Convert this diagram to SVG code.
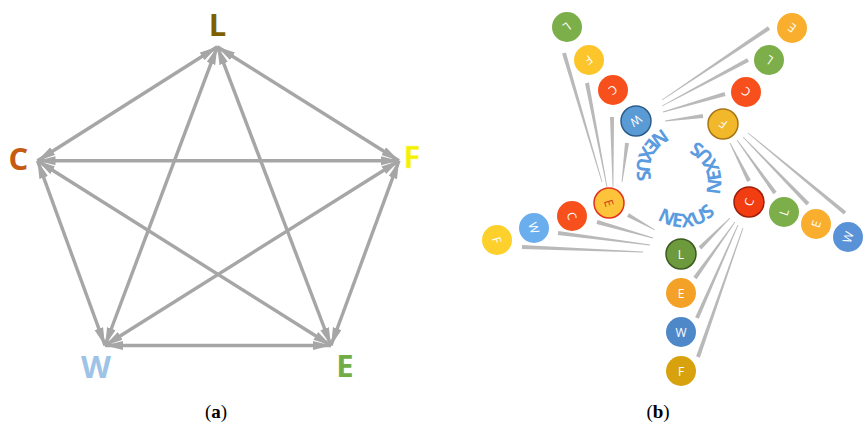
<svg xmlns="http://www.w3.org/2000/svg" width="864" height="433" viewBox="0 0 864 433">
<style>
.edge{stroke:#a6a6a6;stroke-width:3.4;fill:none;marker-start:url(#ah);marker-end:url(#ah)}
.lbl{font-family:"Open Sans","Liberation Sans",sans-serif;font-weight:bold;font-size:31px;text-anchor:middle}
.w{fill:#b9b9b9}
.t{font-family:"Open Sans","Liberation Sans",sans-serif;font-size:12px;fill:#fff;text-anchor:middle;dominant-baseline:central}
.nx{font-family:"Open Sans","Liberation Sans",sans-serif;font-weight:bold;font-size:19px;fill:#5b9be0}
.cap{font-family:"Liberation Serif",serif;font-size:19px;fill:#000;text-anchor:middle}
</style>
<defs>
<marker id="ah" markerUnits="userSpaceOnUse" markerWidth="20" markerHeight="10" refX="18" refY="4.5" orient="auto-start-reverse">
<path d="M0,0 L18,4.5 L0,9 z" fill="#a6a6a6"/>
</marker>
<path id="pl" d="M677.4,124.6 A45,45 0 0 0 644.7,195.3"/>
<path id="pr" d="M712.3,208.4 A45,45 0 0 0 681.2,136.9"/>
<path id="pb" d="M646.6,208.5 A45,45 0 0 0 724.1,200.7"/>
</defs>
<rect width="864" height="433" fill="#fff"/>

<!-- Panel (a) connectors -->
<g id="connectors-a">
<line class="edge" x1="217.3" y1="46.7" x2="37.5" y2="160.7"/>
<line class="edge" x1="217.3" y1="46.7" x2="399" y2="160.7"/>
<line class="edge" x1="217.3" y1="46.7" x2="105" y2="345.5"/>
<line class="edge" x1="217.3" y1="46.7" x2="331" y2="345.5"/>
<line class="edge" x1="37.5" y1="160.7" x2="399" y2="160.7"/>
<line class="edge" x1="37.5" y1="160.7" x2="105" y2="345.5"/>
<line class="edge" x1="37.5" y1="160.7" x2="331" y2="345.5"/>
<line class="edge" x1="399" y1="160.7" x2="105" y2="345.5"/>
<line class="edge" x1="399" y1="160.7" x2="331" y2="345.5"/>
<line class="edge" x1="105" y1="345.5" x2="331" y2="345.5"/>
</g>
<g id="node-a-L"><text class="lbl" x="217.5" y="36" fill="#7f6000">L</text></g>
<g id="node-a-C"><text class="lbl" x="18.5" y="170" fill="#c55a11">C</text></g>
<g id="node-a-F"><text class="lbl" x="412" y="168" fill="#f5f000" stroke="#fbfb9a" stroke-width="0.6">F</text></g>
<g id="node-a-W"><text class="lbl" x="96" y="378" fill="#9dc3e6">W</text></g>
<g id="node-a-E"><text class="lbl" x="345" y="377" fill="#70ad47">E</text></g>

<!-- Panel (b) connectors -->
<g id="connectors-b">
<polygon class="w" points="602.38,181.89 565.92,52.44 562.08,53.57 601.62,182.11"/>
<polygon class="w" points="607.39,186.92 588.96,82.62 585.04,83.38 606.61,187.08"/>
<polygon class="w" points="613.4,186.99 614,116.97 610,117.03 612.6,187.01"/>
<polygon class="w" points="622.4,182.05 628.98,143.25 625.02,142.75 621.6,181.95"/>
<polygon class="w" points="662.22,100.33 770.12,29.66 767.88,26.34 661.78,99.67"/>
<polygon class="w" points="662.19,106.35 748.94,61.76 747.06,58.24 661.81,105.65"/>
<polygon class="w" points="663.11,112.38 725.56,95.92 724.44,92.08 662.89,111.62"/>
<polygon class="w" points="665.05,121.4 703.26,117.98 702.74,114.02 664.95,120.6"/>
<polygon class="w" points="729.64,143.18 747.21,181.89 750.79,180.11 730.36,142.82"/>
<polygon class="w" points="736.68,140.24 773.39,194.19 776.61,191.81 737.32,139.76"/>
<polygon class="w" points="742.72,137.28 806.6,205.42 809.4,202.58 743.28,136.72"/>
<polygon class="w" points="747.75,133.31 843.75,214.56 846.25,211.44 748.25,132.69"/>
<polygon class="w" points="729.72,217.72 698.59,246.59 701.41,249.41 730.28,218.28"/>
<polygon class="w" points="734.67,221.77 693.37,276.84 696.63,279.16 735.33,222.23"/>
<polygon class="w" points="737.63,224.84 695.17,317.19 698.83,318.81 738.37,225.16"/>
<polygon class="w" points="742.62,227.87 696.11,356.34 699.89,357.66 743.38,228.13"/>
<polygon class="w" points="655.19,229.65 628.97,213.25 627.03,216.75 654.81,230.35"/>
<polygon class="w" points="653.11,237.62 597.55,220.08 596.45,223.92 652.89,238.38"/>
<polygon class="w" points="650.05,244.6 558.26,231.02 557.74,234.98 649.95,245.4"/>
<polygon class="w" points="643.02,251.6 522.08,245 521.92,249 642.98,252.4"/>
</g>

<g id="nexus-labels">
<text class="nx"><textPath href="#pl" startOffset="50%" text-anchor="middle">NEXUS</textPath></text>
<text class="nx"><textPath href="#pr" startOffset="50%" text-anchor="middle">NEXUS</textPath></text>
<text class="nx"><textPath href="#pb" startOffset="50%" text-anchor="middle">NEXUS</textPath></text>
</g>

<!-- Hubs -->
<g id="hub-W"><circle cx="636" cy="121" r="15" fill="#5b9bd5" stroke="#2e5d8c" stroke-width="1.5"/><text class="t" x="636" y="121" transform="rotate(144 636 121)">W</text></g>
<g id="hub-F"><circle cx="723" cy="124" r="15" fill="#f2b82c" stroke="#a87516" stroke-width="1.5"/><text class="t" x="723" y="124" transform="rotate(216 723 124)">F</text></g>
<g id="hub-C"><circle cx="749" cy="202" r="15" fill="#f23c12" stroke="#9e1d07" stroke-width="1.5"/><text class="t" x="749" y="202" transform="rotate(-72 749 202)">C</text></g>
<g id="hub-L"><circle cx="681" cy="254" r="15" fill="#6e9a3e" stroke="#3c5a20" stroke-width="1.5"/><text class="t" x="681" y="254">L</text></g>
<g id="hub-E"><circle cx="609" cy="203" r="15" fill="#fdc33a" stroke="#e5311b" stroke-width="1.5"/><text class="t" x="609" y="203" style="fill:#c8401c" transform="rotate(72 609 203)">E</text></g>

<!-- Spokes: top-left column -->
<g id="s-E-L"><circle cx="567" cy="27" r="15" fill="#7cae4a"/><text class="t" x="567" y="27" transform="rotate(144 567 27)">L</text></g>
<g id="s-E-F"><circle cx="589" cy="60" r="15" fill="#fcc52a"/><text class="t" x="589" y="60" transform="rotate(144 589 60)">F</text></g>
<g id="s-E-C"><circle cx="613" cy="90" r="15" fill="#f7501d"/><text class="t" x="613" y="90" transform="rotate(144 613 90)">C</text></g>
<!-- top-right column -->
<g id="s-W-E"><circle cx="792" cy="28" r="15" fill="#f9ae2e"/><text class="t" x="792" y="28" transform="rotate(216 792 28)">E</text></g>
<g id="s-W-L"><circle cx="769" cy="60" r="15" fill="#7cae4a"/><text class="t" x="769" y="60" transform="rotate(216 769 60)">L</text></g>
<g id="s-W-C"><circle cx="746" cy="92" r="15" fill="#f7501d"/><text class="t" x="746" y="92" transform="rotate(216 746 92)">C</text></g>
<!-- right column -->
<g id="s-F-L"><circle cx="784" cy="212" r="15" fill="#7cae4a"/><text class="t" x="784" y="212" transform="rotate(-72 784 212)">L</text></g>
<g id="s-F-E"><circle cx="816" cy="224" r="15" fill="#f9ae2e"/><text class="t" x="816" y="224" transform="rotate(-72 816 224)">E</text></g>
<g id="s-F-W"><circle cx="848" cy="237" r="15" fill="#5a92d8"/><text class="t" x="848" y="237" transform="rotate(-72 848 237)">W</text></g>
<!-- bottom column -->
<g id="s-C-E"><circle cx="681" cy="293" r="15" fill="#f4a227"/><text class="t" x="681" y="293">E</text></g>
<g id="s-C-W"><circle cx="681" cy="332" r="15" fill="#4f88c8"/><text class="t" x="681" y="332">W</text></g>
<g id="s-C-F"><circle cx="681" cy="371" r="15" fill="#d8a20e"/><text class="t" x="681" y="371">F</text></g>
<!-- left column -->
<g id="s-L-C"><circle cx="572" cy="216" r="15" fill="#f7501d"/><text class="t" x="572" y="216" transform="rotate(72 572 216)">C</text></g>
<g id="s-L-W"><circle cx="534" cy="228" r="15" fill="#6aaeee"/><text class="t" x="534" y="228" transform="rotate(72 534 228)">W</text></g>
<g id="s-L-F"><circle cx="497" cy="240" r="15" fill="#fdd02c"/><text class="t" x="497" y="240" transform="rotate(72 497 240)">F</text></g>

<g id="captions">
<text class="cap" x="216" y="418">(<tspan font-weight="bold">a</tspan>)</text>
<text class="cap" x="658" y="418">(<tspan font-weight="bold">b</tspan>)</text>
</g>
</svg>
